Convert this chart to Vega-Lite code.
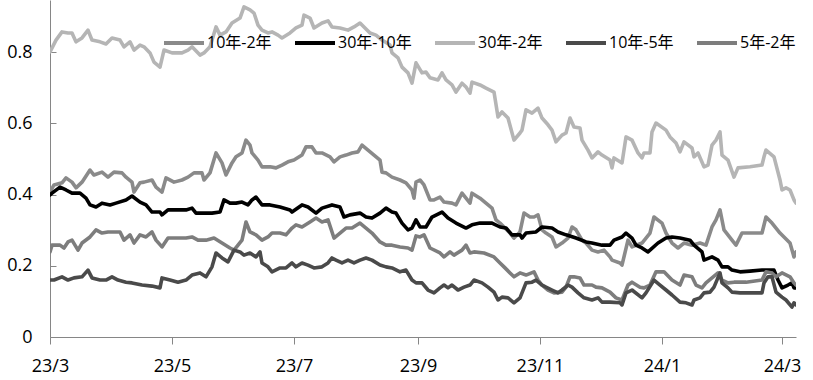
{
"$schema": "https://vega.github.io/schema/vega-lite/v6.json",
"width": 746, "height": 337,
"autosize": {"type": "none"},
"padding": {"left": 50, "top": 0, "right": 17, "bottom": 43},
"background": "white",
"config": {"view": {"stroke": null}, "font": "Open Sans, Noto Sans CJK SC"},
"data": {"values": [
{"s":"30年-2年","d":"2023-03-01","v":0.801},{"s":"30年-2年","d":"2023-03-04","v":0.834},{"s":"30年-2年","d":"2023-03-07","v":0.857},{"s":"30年-2年","d":"2023-03-10","v":0.854},{"s":"30年-2年","d":"2023-03-12","v":0.854},{"s":"30年-2年","d":"2023-03-14","v":0.829},{"s":"30年-2年","d":"2023-03-17","v":0.840},{"s":"30年-2年","d":"2023-03-20","v":0.862},{"s":"30年-2年","d":"2023-03-22","v":0.834},{"s":"30年-2年","d":"2023-03-26","v":0.829},{"s":"30年-2年","d":"2023-03-29","v":0.823},{"s":"30年-2年","d":"2023-04-01","v":0.840},{"s":"30年-2年","d":"2023-04-05","v":0.834},{"s":"30年-2年","d":"2023-04-07","v":0.815},{"s":"30年-2年","d":"2023-04-10","v":0.829},{"s":"30年-2年","d":"2023-04-12","v":0.806},{"s":"30年-2年","d":"2023-04-15","v":0.820},{"s":"30年-2年","d":"2023-04-17","v":0.815},{"s":"30年-2年","d":"2023-04-20","v":0.798},{"s":"30年-2年","d":"2023-04-22","v":0.772},{"s":"30年-2年","d":"2023-04-25","v":0.758},{"s":"30年-2年","d":"2023-04-27","v":0.806},{"s":"30年-2年","d":"2023-05-01","v":0.798},{"s":"30年-2年","d":"2023-05-06","v":0.798},{"s":"30年-2年","d":"2023-05-09","v":0.806},{"s":"30年-2年","d":"2023-05-11","v":0.815},{"s":"30年-2年","d":"2023-05-15","v":0.792},{"s":"30年-2年","d":"2023-05-17","v":0.798},{"s":"30年-2年","d":"2023-05-20","v":0.815},{"s":"30年-2年","d":"2023-05-23","v":0.871},{"s":"30年-2年","d":"2023-05-25","v":0.848},{"s":"30年-2年","d":"2023-05-28","v":0.857},{"s":"30年-2年","d":"2023-05-31","v":0.882},{"s":"30年-2年","d":"2023-06-04","v":0.896},{"s":"30年-2年","d":"2023-06-06","v":0.927},{"s":"30年-2年","d":"2023-06-09","v":0.919},{"s":"30年-2年","d":"2023-06-11","v":0.910},{"s":"30年-2年","d":"2023-06-13","v":0.876},{"s":"30年-2年","d":"2023-06-15","v":0.862},{"s":"30年-2年","d":"2023-06-18","v":0.854},{"s":"30年-2年","d":"2023-06-20","v":0.857},{"s":"30年-2年","d":"2023-06-23","v":0.848},{"s":"30年-2年","d":"2023-06-25","v":0.840},{"s":"30年-2年","d":"2023-06-29","v":0.854},{"s":"30年-2年","d":"2023-07-02","v":0.868},{"s":"30年-2年","d":"2023-07-05","v":0.876},{"s":"30年-2年","d":"2023-07-06","v":0.904},{"s":"30年-2年","d":"2023-07-09","v":0.896},{"s":"30年-2年","d":"2023-07-11","v":0.868},{"s":"30年-2年","d":"2023-07-15","v":0.882},{"s":"30年-2年","d":"2023-07-18","v":0.888},{"s":"30年-2年","d":"2023-07-20","v":0.871},{"s":"30年-2年","d":"2023-07-24","v":0.868},{"s":"30年-2年","d":"2023-07-28","v":0.862},{"s":"30年-2年","d":"2023-07-31","v":0.871},{"s":"30年-2年","d":"2023-08-03","v":0.882},{"s":"30年-2年","d":"2023-08-05","v":0.871},{"s":"30年-2年","d":"2023-08-08","v":0.854},{"s":"30年-2年","d":"2023-08-11","v":0.848},{"s":"30年-2年","d":"2023-08-14","v":0.834},{"s":"30年-2年","d":"2023-08-18","v":0.820},{"s":"30年-2年","d":"2023-08-19","v":0.798},{"s":"30年-2年","d":"2023-08-22","v":0.784},{"s":"30年-2年","d":"2023-08-24","v":0.758},{"s":"30年-2年","d":"2023-08-27","v":0.742},{"s":"30年-2年","d":"2023-08-29","v":0.713},{"s":"30年-2年","d":"2023-08-31","v":0.770},{"s":"30年-2年","d":"2023-09-03","v":0.742},{"s":"30年-2年","d":"2023-09-05","v":0.744},{"s":"30年-2年","d":"2023-09-07","v":0.728},{"s":"30年-2年","d":"2023-09-11","v":0.722},{"s":"30年-2年","d":"2023-09-13","v":0.742},{"s":"30年-2年","d":"2023-09-15","v":0.722},{"s":"30年-2年","d":"2023-09-18","v":0.708},{"s":"30年-2年","d":"2023-09-20","v":0.688},{"s":"30年-2年","d":"2023-09-23","v":0.713},{"s":"30年-2年","d":"2023-09-25","v":0.702},{"s":"30年-2年","d":"2023-09-27","v":0.685},{"s":"30年-2年","d":"2023-09-28","v":0.716},{"s":"30年-2年","d":"2023-10-02","v":0.708},{"s":"30年-2年","d":"2023-10-05","v":0.699},{"s":"30年-2年","d":"2023-10-09","v":0.688},{"s":"30年-2年","d":"2023-10-11","v":0.618},{"s":"30年-2年","d":"2023-10-13","v":0.632},{"s":"30年-2年","d":"2023-10-16","v":0.615},{"s":"30年-2年","d":"2023-10-19","v":0.553},{"s":"30年-2年","d":"2023-10-22","v":0.573},{"s":"30年-2年","d":"2023-10-23","v":0.581},{"s":"30年-2年","d":"2023-10-25","v":0.638},{"s":"30年-2年","d":"2023-10-28","v":0.629},{"s":"30年-2年","d":"2023-10-31","v":0.643},{"s":"30年-2年","d":"2023-11-02","v":0.615},{"s":"30年-2年","d":"2023-11-05","v":0.596},{"s":"30年-2年","d":"2023-11-07","v":0.581},{"s":"30年-2年","d":"2023-11-09","v":0.548},{"s":"30年-2年","d":"2023-11-12","v":0.567},{"s":"30年-2年","d":"2023-11-14","v":0.573},{"s":"30年-2年","d":"2023-11-16","v":0.615},{"s":"30年-2年","d":"2023-11-18","v":0.590},{"s":"30年-2年","d":"2023-11-21","v":0.587},{"s":"30年-2年","d":"2023-11-22","v":0.553},{"s":"30年-2年","d":"2023-11-25","v":0.525},{"s":"30年-2年","d":"2023-11-27","v":0.503},{"s":"30年-2年","d":"2023-11-30","v":0.520},{"s":"30年-2年","d":"2023-12-02","v":0.511},{"s":"30年-2年","d":"2023-12-06","v":0.497},{"s":"30年-2年","d":"2023-12-07","v":0.475},{"s":"30年-2年","d":"2023-12-08","v":0.503},{"s":"30年-2年","d":"2023-12-12","v":0.489},{"s":"30年-2年","d":"2023-12-14","v":0.562},{"s":"30年-2年","d":"2023-12-17","v":0.553},{"s":"30年-2年","d":"2023-12-20","v":0.517},{"s":"30年-2年","d":"2023-12-22","v":0.503},{"s":"30年-2年","d":"2023-12-23","v":0.517},{"s":"30年-2年","d":"2023-12-26","v":0.517},{"s":"30年-2年","d":"2023-12-27","v":0.576},{"s":"30年-2年","d":"2023-12-29","v":0.601},{"s":"30年-2年","d":"2024-01-03","v":0.581},{"s":"30年-2年","d":"2024-01-05","v":0.562},{"s":"30年-2年","d":"2024-01-08","v":0.545},{"s":"30年-2年","d":"2024-01-10","v":0.520},{"s":"30年-2年","d":"2024-01-12","v":0.548},{"s":"30年-2年","d":"2024-01-16","v":0.531},{"s":"30年-2年","d":"2024-01-17","v":0.506},{"s":"30年-2年","d":"2024-01-19","v":0.517},{"s":"30年-2年","d":"2024-01-22","v":0.478},{"s":"30年-2年","d":"2024-01-24","v":0.483},{"s":"30年-2年","d":"2024-01-26","v":0.539},{"s":"30年-2年","d":"2024-01-28","v":0.553},{"s":"30年-2年","d":"2024-01-30","v":0.576},{"s":"30年-2年","d":"2024-01-31","v":0.511},{"s":"30年-2年","d":"2024-02-03","v":0.497},{"s":"30年-2年","d":"2024-02-06","v":0.449},{"s":"30年-2年","d":"2024-02-08","v":0.475},{"s":"30年-2年","d":"2024-02-14","v":0.478},{"s":"30年-2年","d":"2024-02-20","v":0.483},{"s":"30年-2年","d":"2024-02-21","v":0.506},{"s":"30年-2年","d":"2024-02-22","v":0.525},{"s":"30年-2年","d":"2024-02-26","v":0.506},{"s":"30年-2年","d":"2024-02-29","v":0.441},{"s":"30年-2年","d":"2024-03-01","v":0.413},{"s":"30年-2年","d":"2024-03-03","v":0.419},{"s":"30年-2年","d":"2024-03-05","v":0.413},{"s":"30年-2年","d":"2024-03-07","v":0.385},{"s":"30年-2年","d":"2024-03-08","v":0.376},
{"s":"10年-2年","d":"2023-03-01","v":0.407},{"s":"10年-2年","d":"2023-03-03","v":0.427},{"s":"10年-2年","d":"2023-03-07","v":0.433},{"s":"10年-2年","d":"2023-03-09","v":0.447},{"s":"10年-2年","d":"2023-03-12","v":0.435},{"s":"10年-2年","d":"2023-03-14","v":0.419},{"s":"10年-2年","d":"2023-03-17","v":0.435},{"s":"10年-2年","d":"2023-03-21","v":0.469},{"s":"10年-2年","d":"2023-03-23","v":0.455},{"s":"10年-2年","d":"2023-03-27","v":0.463},{"s":"10年-2年","d":"2023-03-30","v":0.449},{"s":"10年-2年","d":"2023-04-02","v":0.463},{"s":"10年-2年","d":"2023-04-06","v":0.461},{"s":"10年-2年","d":"2023-04-08","v":0.449},{"s":"10年-2年","d":"2023-04-11","v":0.435},{"s":"10年-2年","d":"2023-04-12","v":0.407},{"s":"10年-2年","d":"2023-04-15","v":0.433},{"s":"10年-2年","d":"2023-04-17","v":0.435},{"s":"10年-2年","d":"2023-04-21","v":0.441},{"s":"10年-2年","d":"2023-04-23","v":0.421},{"s":"10年-2年","d":"2023-04-26","v":0.407},{"s":"10年-2年","d":"2023-04-28","v":0.447},{"s":"10年-2年","d":"2023-05-02","v":0.435},{"s":"10年-2年","d":"2023-05-06","v":0.441},{"s":"10年-2年","d":"2023-05-09","v":0.449},{"s":"10年-2年","d":"2023-05-12","v":0.461},{"s":"10年-2年","d":"2023-05-16","v":0.461},{"s":"10年-2年","d":"2023-05-17","v":0.441},{"s":"10年-2年","d":"2023-05-20","v":0.461},{"s":"10年-2年","d":"2023-05-23","v":0.517},{"s":"10年-2年","d":"2023-05-26","v":0.489},{"s":"10年-2年","d":"2023-05-28","v":0.455},{"s":"10年-2年","d":"2023-05-31","v":0.489},{"s":"10年-2年","d":"2023-06-02","v":0.506},{"s":"10年-2年","d":"2023-06-05","v":0.517},{"s":"10年-2年","d":"2023-06-07","v":0.553},{"s":"10年-2年","d":"2023-06-09","v":0.539},{"s":"10年-2年","d":"2023-06-10","v":0.517},{"s":"10年-2年","d":"2023-06-13","v":0.497},{"s":"10年-2年","d":"2023-06-15","v":0.478},{"s":"10年-2年","d":"2023-06-19","v":0.478},{"s":"10年-2年","d":"2023-06-22","v":0.475},{"s":"10年-2年","d":"2023-06-25","v":0.483},{"s":"10年-2年","d":"2023-06-28","v":0.492},{"s":"10年-2年","d":"2023-07-01","v":0.497},{"s":"10年-2年","d":"2023-07-05","v":0.511},{"s":"10年-2年","d":"2023-07-07","v":0.534},{"s":"10年-2年","d":"2023-07-10","v":0.534},{"s":"10年-2年","d":"2023-07-12","v":0.517},{"s":"10年-2年","d":"2023-07-15","v":0.517},{"s":"10年-2年","d":"2023-07-19","v":0.506},{"s":"10年-2年","d":"2023-07-21","v":0.492},{"s":"10年-2年","d":"2023-07-24","v":0.506},{"s":"10年-2年","d":"2023-07-27","v":0.511},{"s":"10年-2年","d":"2023-07-30","v":0.517},{"s":"10年-2年","d":"2023-08-02","v":0.520},{"s":"10年-2年","d":"2023-08-04","v":0.539},{"s":"10年-2年","d":"2023-08-07","v":0.525},{"s":"10年-2年","d":"2023-08-10","v":0.511},{"s":"10年-2年","d":"2023-08-13","v":0.497},{"s":"10年-2年","d":"2023-08-14","v":0.463},{"s":"10年-2年","d":"2023-08-16","v":0.461},{"s":"10年-2年","d":"2023-08-19","v":0.449},{"s":"10年-2年","d":"2023-08-23","v":0.441},{"s":"10年-2年","d":"2023-08-26","v":0.433},{"s":"10年-2年","d":"2023-08-29","v":0.413},{"s":"10年-2年","d":"2023-08-30","v":0.390},{"s":"10年-2年","d":"2023-08-31","v":0.435},{"s":"10年-2年","d":"2023-09-02","v":0.441},{"s":"10年-2年","d":"2023-09-04","v":0.427},{"s":"10年-2年","d":"2023-09-07","v":0.385},{"s":"10年-2年","d":"2023-09-09","v":0.385},{"s":"10年-2年","d":"2023-09-12","v":0.393},{"s":"10年-2年","d":"2023-09-14","v":0.379},{"s":"10年-2年","d":"2023-09-18","v":0.376},{"s":"10年-2年","d":"2023-09-20","v":0.371},{"s":"10年-2年","d":"2023-09-23","v":0.404},{"s":"10年-2年","d":"2023-09-25","v":0.390},{"s":"10年-2年","d":"2023-09-27","v":0.376},{"s":"10年-2年","d":"2023-09-28","v":0.404},{"s":"10年-2年","d":"2023-10-02","v":0.390},{"s":"10年-2年","d":"2023-10-05","v":0.376},{"s":"10年-2年","d":"2023-10-08","v":0.362},{"s":"10年-2年","d":"2023-10-10","v":0.329},{"s":"10年-2年","d":"2023-10-12","v":0.320},{"s":"10年-2年","d":"2023-10-14","v":0.309},{"s":"10年-2年","d":"2023-10-17","v":0.292},{"s":"10年-2年","d":"2023-10-19","v":0.278},{"s":"10年-2年","d":"2023-10-22","v":0.295},{"s":"10年-2年","d":"2023-10-24","v":0.348},{"s":"10年-2年","d":"2023-10-27","v":0.337},{"s":"10年-2年","d":"2023-10-29","v":0.337},{"s":"10年-2年","d":"2023-10-31","v":0.343},{"s":"10年-2年","d":"2023-11-02","v":0.301},{"s":"10年-2年","d":"2023-11-04","v":0.292},{"s":"10年-2年","d":"2023-11-07","v":0.281},{"s":"10年-2年","d":"2023-11-09","v":0.253},{"s":"10年-2年","d":"2023-11-12","v":0.264},{"s":"10年-2年","d":"2023-11-15","v":0.278},{"s":"10年-2年","d":"2023-11-17","v":0.309},{"s":"10年-2年","d":"2023-11-19","v":0.301},{"s":"10年-2年","d":"2023-11-22","v":0.272},{"s":"10年-2年","d":"2023-11-24","v":0.264},{"s":"10年-2年","d":"2023-11-27","v":0.244},{"s":"10年-2年","d":"2023-11-30","v":0.239},{"s":"10年-2年","d":"2023-12-03","v":0.244},{"s":"10年-2年","d":"2023-12-06","v":0.225},{"s":"10年-2年","d":"2023-12-07","v":0.216},{"s":"10年-2年","d":"2023-12-11","v":0.208},{"s":"10年-2年","d":"2023-12-12","v":0.202},{"s":"10年-2年","d":"2023-12-15","v":0.272},{"s":"10年-2年","d":"2023-12-17","v":0.253},{"s":"10年-2年","d":"2023-12-22","v":0.264},{"s":"10年-2年","d":"2023-12-26","v":0.292},{"s":"10年-2年","d":"2023-12-28","v":0.337},{"s":"10年-2年","d":"2024-01-01","v":0.320},{"s":"10年-2年","d":"2024-01-03","v":0.292},{"s":"10年-2年","d":"2024-01-06","v":0.264},{"s":"10年-2年","d":"2024-01-09","v":0.250},{"s":"10年-2年","d":"2024-01-12","v":0.264},{"s":"10年-2年","d":"2024-01-16","v":0.258},{"s":"10年-2年","d":"2024-01-20","v":0.264},{"s":"10年-2年","d":"2024-01-23","v":0.258},{"s":"10年-2年","d":"2024-01-26","v":0.309},{"s":"10年-2年","d":"2024-01-28","v":0.329},{"s":"10年-2年","d":"2024-01-30","v":0.357},{"s":"10年-2年","d":"2024-02-01","v":0.301},{"s":"10年-2年","d":"2024-02-05","v":0.272},{"s":"10年-2年","d":"2024-02-07","v":0.258},{"s":"10年-2年","d":"2024-02-10","v":0.292},{"s":"10年-2年","d":"2024-02-15","v":0.292},{"s":"10年-2年","d":"2024-02-20","v":0.292},{"s":"10年-2年","d":"2024-02-22","v":0.337},{"s":"10年-2年","d":"2024-02-25","v":0.320},{"s":"10年-2年","d":"2024-02-29","v":0.292},{"s":"10年-2年","d":"2024-03-02","v":0.281},{"s":"10年-2年","d":"2024-03-05","v":0.264},{"s":"10年-2年","d":"2024-03-07","v":0.225},{"s":"10年-2年","d":"2024-03-08","v":0.239},
{"s":"30年-10年","d":"2023-03-01","v":0.399},{"s":"30年-10年","d":"2023-03-02","v":0.404},{"s":"30年-10年","d":"2023-03-06","v":0.421},{"s":"30年-10年","d":"2023-03-09","v":0.413},{"s":"30年-10年","d":"2023-03-12","v":0.404},{"s":"30年-10年","d":"2023-03-16","v":0.404},{"s":"30年-10年","d":"2023-03-19","v":0.390},{"s":"30年-10年","d":"2023-03-21","v":0.371},{"s":"30年-10年","d":"2023-03-24","v":0.365},{"s":"30年-10年","d":"2023-03-27","v":0.376},{"s":"30年-10年","d":"2023-03-31","v":0.371},{"s":"30年-10年","d":"2023-04-03","v":0.376},{"s":"30年-10年","d":"2023-04-08","v":0.385},{"s":"30年-10年","d":"2023-04-11","v":0.396},{"s":"30年-10年","d":"2023-04-15","v":0.379},{"s":"30年-10年","d":"2023-04-18","v":0.371},{"s":"30年-10年","d":"2023-04-21","v":0.351},{"s":"30年-10年","d":"2023-04-25","v":0.351},{"s":"30年-10年","d":"2023-04-26","v":0.343},{"s":"30年-10年","d":"2023-04-29","v":0.357},{"s":"30年-10年","d":"2023-05-03","v":0.357},{"s":"30年-10年","d":"2023-05-08","v":0.357},{"s":"30年-10年","d":"2023-05-11","v":0.362},{"s":"30年-10年","d":"2023-05-13","v":0.348},{"s":"30年-10年","d":"2023-05-16","v":0.348},{"s":"30年-10年","d":"2023-05-21","v":0.348},{"s":"30年-10年","d":"2023-05-25","v":0.351},{"s":"30年-10年","d":"2023-05-27","v":0.385},{"s":"30年-10年","d":"2023-05-30","v":0.376},{"s":"30年-10年","d":"2023-06-02","v":0.376},{"s":"30年-10年","d":"2023-06-05","v":0.379},{"s":"30年-10年","d":"2023-06-08","v":0.371},{"s":"30年-10年","d":"2023-06-10","v":0.385},{"s":"30年-10年","d":"2023-06-12","v":0.393},{"s":"30年-10年","d":"2023-06-15","v":0.371},{"s":"30年-10年","d":"2023-06-19","v":0.371},{"s":"30年-10年","d":"2023-06-24","v":0.365},{"s":"30年-10年","d":"2023-06-29","v":0.357},{"s":"30年-10年","d":"2023-06-30","v":0.351},{"s":"30年-10年","d":"2023-07-05","v":0.371},{"s":"30年-10年","d":"2023-07-08","v":0.365},{"s":"30年-10年","d":"2023-07-12","v":0.348},{"s":"30年-10年","d":"2023-07-15","v":0.362},{"s":"30年-10年","d":"2023-07-20","v":0.371},{"s":"30年-10年","d":"2023-07-24","v":0.365},{"s":"30年-10年","d":"2023-07-26","v":0.337},{"s":"30年-10年","d":"2023-07-29","v":0.343},{"s":"30年-10年","d":"2023-08-03","v":0.348},{"s":"30年-10年","d":"2023-08-06","v":0.337},{"s":"30年-10年","d":"2023-08-09","v":0.334},{"s":"30年-10年","d":"2023-08-13","v":0.348},{"s":"30年-10年","d":"2023-08-16","v":0.362},{"s":"30年-10年","d":"2023-08-19","v":0.351},{"s":"30年-10年","d":"2023-08-21","v":0.348},{"s":"30年-10年","d":"2023-08-24","v":0.320},{"s":"30年-10年","d":"2023-08-27","v":0.301},{"s":"30年-10年","d":"2023-08-29","v":0.306},{"s":"30年-10年","d":"2023-08-31","v":0.329},{"s":"30年-10年","d":"2023-09-02","v":0.309},{"s":"30年-10年","d":"2023-09-05","v":0.309},{"s":"30年-10年","d":"2023-09-08","v":0.337},{"s":"30年-10年","d":"2023-09-13","v":0.351},{"s":"30年-10年","d":"2023-09-16","v":0.334},{"s":"30年-10年","d":"2023-09-20","v":0.320},{"s":"30年-10年","d":"2023-09-25","v":0.306},{"s":"30年-10年","d":"2023-09-28","v":0.315},{"s":"30年-10年","d":"2023-10-02","v":0.320},{"s":"30年-10年","d":"2023-10-08","v":0.320},{"s":"30年-10年","d":"2023-10-12","v":0.309},{"s":"30年-10年","d":"2023-10-15","v":0.306},{"s":"30年-10年","d":"2023-10-18","v":0.287},{"s":"30年-10年","d":"2023-10-22","v":0.287},{"s":"30年-10年","d":"2023-10-23","v":0.278},{"s":"30年-10年","d":"2023-10-25","v":0.292},{"s":"30年-10年","d":"2023-10-30","v":0.295},{"s":"30年-10年","d":"2023-11-02","v":0.309},{"s":"30年-10年","d":"2023-11-07","v":0.306},{"s":"30年-10年","d":"2023-11-10","v":0.295},{"s":"30年-10年","d":"2023-11-14","v":0.287},{"s":"30年-10年","d":"2023-11-19","v":0.278},{"s":"30年-10年","d":"2023-11-24","v":0.267},{"s":"30年-10年","d":"2023-11-27","v":0.264},{"s":"30年-10年","d":"2023-12-02","v":0.258},{"s":"30年-10年","d":"2023-12-06","v":0.258},{"s":"30年-10年","d":"2023-12-08","v":0.272},{"s":"30年-10年","d":"2023-12-12","v":0.281},{"s":"30年-10年","d":"2023-12-14","v":0.292},{"s":"30年-10年","d":"2023-12-17","v":0.278},{"s":"30年-10年","d":"2023-12-19","v":0.258},{"s":"30年-10年","d":"2023-12-22","v":0.250},{"s":"30年-10年","d":"2023-12-25","v":0.239},{"s":"30年-10年","d":"2023-12-30","v":0.264},{"s":"30年-10年","d":"2024-01-03","v":0.278},{"s":"30年-10年","d":"2024-01-06","v":0.281},{"s":"30年-10年","d":"2024-01-10","v":0.278},{"s":"30年-10年","d":"2024-01-15","v":0.272},{"s":"30年-10年","d":"2024-01-17","v":0.258},{"s":"30年-10年","d":"2024-01-21","v":0.239},{"s":"30年-10年","d":"2024-01-22","v":0.216},{"s":"30年-10年","d":"2024-01-26","v":0.225},{"s":"30年-10年","d":"2024-01-29","v":0.216},{"s":"30年-10年","d":"2024-01-31","v":0.197},{"s":"30年-10年","d":"2024-02-03","v":0.197},{"s":"30年-10年","d":"2024-02-05","v":0.188},{"s":"30年-10年","d":"2024-02-09","v":0.183},{"s":"30年-10年","d":"2024-02-14","v":0.185},{"s":"30年-10年","d":"2024-02-20","v":0.188},{"s":"30年-10年","d":"2024-02-26","v":0.188},{"s":"30年-10年","d":"2024-02-28","v":0.160},{"s":"30年-10年","d":"2024-03-01","v":0.138},{"s":"30年-10年","d":"2024-03-04","v":0.146},{"s":"30年-10年","d":"2024-03-06","v":0.152},{"s":"30年-10年","d":"2024-03-07","v":0.138},{"s":"30年-10年","d":"2024-03-08","v":0.138},
{"s":"5年-2年","d":"2023-03-01","v":0.239},{"s":"5年-2年","d":"2023-03-02","v":0.258},{"s":"5年-2年","d":"2023-03-06","v":0.258},{"s":"5年-2年","d":"2023-03-08","v":0.250},{"s":"5年-2年","d":"2023-03-10","v":0.267},{"s":"5年-2年","d":"2023-03-12","v":0.272},{"s":"5年-2年","d":"2023-03-15","v":0.244},{"s":"5年-2年","d":"2023-03-17","v":0.264},{"s":"5年-2年","d":"2023-03-21","v":0.281},{"s":"5年-2年","d":"2023-03-24","v":0.301},{"s":"5年-2年","d":"2023-03-27","v":0.292},{"s":"5年-2年","d":"2023-03-30","v":0.295},{"s":"5年-2年","d":"2023-04-01","v":0.295},{"s":"5年-2年","d":"2023-04-05","v":0.295},{"s":"5年-2年","d":"2023-04-07","v":0.272},{"s":"5年-2年","d":"2023-04-10","v":0.287},{"s":"5年-2年","d":"2023-04-12","v":0.264},{"s":"5年-2年","d":"2023-04-15","v":0.287},{"s":"5年-2年","d":"2023-04-18","v":0.281},{"s":"5年-2年","d":"2023-04-21","v":0.295},{"s":"5年-2年","d":"2023-04-23","v":0.272},{"s":"5年-2年","d":"2023-04-26","v":0.253},{"s":"5年-2年","d":"2023-04-29","v":0.278},{"s":"5年-2年","d":"2023-05-03","v":0.278},{"s":"5年-2年","d":"2023-05-08","v":0.278},{"s":"5年-2年","d":"2023-05-11","v":0.281},{"s":"5年-2年","d":"2023-05-14","v":0.272},{"s":"5年-2年","d":"2023-05-18","v":0.272},{"s":"5年-2年","d":"2023-05-22","v":0.278},{"s":"5年-2年","d":"2023-05-26","v":0.264},{"s":"5年-2年","d":"2023-05-30","v":0.250},{"s":"5年-2年","d":"2023-06-01","v":0.244},{"s":"5年-2年","d":"2023-06-05","v":0.272},{"s":"5年-2年","d":"2023-06-07","v":0.323},{"s":"5年-2年","d":"2023-06-09","v":0.295},{"s":"5年-2年","d":"2023-06-12","v":0.287},{"s":"5年-2年","d":"2023-06-15","v":0.272},{"s":"5年-2年","d":"2023-06-18","v":0.281},{"s":"5年-2年","d":"2023-06-20","v":0.292},{"s":"5年-2年","d":"2023-06-24","v":0.292},{"s":"5年-2年","d":"2023-06-27","v":0.287},{"s":"5年-2年","d":"2023-06-30","v":0.306},{"s":"5年-2年","d":"2023-07-02","v":0.315},{"s":"5年-2年","d":"2023-07-05","v":0.309},{"s":"5年-2年","d":"2023-07-09","v":0.323},{"s":"5年-2年","d":"2023-07-12","v":0.334},{"s":"5年-2年","d":"2023-07-15","v":0.323},{"s":"5年-2年","d":"2023-07-18","v":0.329},{"s":"5年-2年","d":"2023-07-21","v":0.278},{"s":"5年-2年","d":"2023-07-24","v":0.292},{"s":"5年-2年","d":"2023-07-27","v":0.306},{"s":"5年-2年","d":"2023-07-30","v":0.306},{"s":"5年-2年","d":"2023-08-03","v":0.320},{"s":"5年-2年","d":"2023-08-06","v":0.306},{"s":"5年-2年","d":"2023-08-09","v":0.292},{"s":"5年-2年","d":"2023-08-13","v":0.267},{"s":"5年-2年","d":"2023-08-16","v":0.258},{"s":"5年-2年","d":"2023-08-19","v":0.258},{"s":"5年-2年","d":"2023-08-23","v":0.253},{"s":"5年-2年","d":"2023-08-27","v":0.250},{"s":"5年-2年","d":"2023-08-29","v":0.244},{"s":"5年-2年","d":"2023-08-31","v":0.284},{"s":"5年-2年","d":"2023-09-02","v":0.281},{"s":"5年-2年","d":"2023-09-04","v":0.287},{"s":"5年-2年","d":"2023-09-07","v":0.250},{"s":"5年-2年","d":"2023-09-12","v":0.236},{"s":"5年-2年","d":"2023-09-14","v":0.225},{"s":"5年-2年","d":"2023-09-17","v":0.239},{"s":"5年-2年","d":"2023-09-19","v":0.230},{"s":"5年-2年","d":"2023-09-23","v":0.244},{"s":"5年-2年","d":"2023-09-25","v":0.258},{"s":"5年-2年","d":"2023-09-27","v":0.236},{"s":"5年-2年","d":"2023-09-29","v":0.239},{"s":"5年-2年","d":"2023-10-04","v":0.236},{"s":"5年-2年","d":"2023-10-09","v":0.225},{"s":"5年-2年","d":"2023-10-12","v":0.208},{"s":"5年-2年","d":"2023-10-14","v":0.197},{"s":"5年-2年","d":"2023-10-17","v":0.180},{"s":"5年-2年","d":"2023-10-19","v":0.169},{"s":"5年-2年","d":"2023-10-22","v":0.180},{"s":"5年-2年","d":"2023-10-25","v":0.174},{"s":"5年-2年","d":"2023-10-29","v":0.183},{"s":"5年-2年","d":"2023-10-31","v":0.160},{"s":"5年-2年","d":"2023-11-02","v":0.146},{"s":"5年-2年","d":"2023-11-05","v":0.132},{"s":"5年-2年","d":"2023-11-08","v":0.124},{"s":"5年-2年","d":"2023-11-12","v":0.126},{"s":"5年-2年","d":"2023-11-14","v":0.140},{"s":"5年-2年","d":"2023-11-16","v":0.169},{"s":"5年-2年","d":"2023-11-18","v":0.169},{"s":"5年-2年","d":"2023-11-21","v":0.166},{"s":"5年-2年","d":"2023-11-23","v":0.146},{"s":"5年-2年","d":"2023-11-27","v":0.146},{"s":"5年-2年","d":"2023-11-29","v":0.140},{"s":"5年-2年","d":"2023-12-02","v":0.138},{"s":"5年-2年","d":"2023-12-06","v":0.126},{"s":"5年-2年","d":"2023-12-09","v":0.110},{"s":"5年-2年","d":"2023-12-12","v":0.104},{"s":"5年-2年","d":"2023-12-15","v":0.146},{"s":"5年-2年","d":"2023-12-17","v":0.154},{"s":"5年-2年","d":"2023-12-21","v":0.140},{"s":"5年-2年","d":"2023-12-23","v":0.138},{"s":"5年-2年","d":"2023-12-26","v":0.146},{"s":"5年-2年","d":"2023-12-29","v":0.183},{"s":"5年-2年","d":"2024-01-02","v":0.183},{"s":"5年-2年","d":"2024-01-06","v":0.160},{"s":"5年-2年","d":"2024-01-10","v":0.146},{"s":"5年-2年","d":"2024-01-12","v":0.174},{"s":"5年-2年","d":"2024-01-16","v":0.169},{"s":"5年-2年","d":"2024-01-18","v":0.146},{"s":"5年-2年","d":"2024-01-21","v":0.138},{"s":"5年-2年","d":"2024-01-23","v":0.152},{"s":"5年-2年","d":"2024-01-26","v":0.166},{"s":"5年-2年","d":"2024-01-29","v":0.180},{"s":"5年-2年","d":"2024-01-31","v":0.160},{"s":"5年-2年","d":"2024-02-03","v":0.152},{"s":"5年-2年","d":"2024-02-06","v":0.154},{"s":"5年-2年","d":"2024-02-12","v":0.154},{"s":"5年-2年","d":"2024-02-20","v":0.160},{"s":"5年-2年","d":"2024-02-22","v":0.183},{"s":"5年-2年","d":"2024-02-25","v":0.180},{"s":"5年-2年","d":"2024-02-27","v":0.169},{"s":"5年-2年","d":"2024-03-01","v":0.180},{"s":"5年-2年","d":"2024-03-05","v":0.169},{"s":"5年-2年","d":"2024-03-07","v":0.152},{"s":"5年-2年","d":"2024-03-08","v":0.146},
{"s":"10年-5年","d":"2023-03-01","v":0.160},{"s":"10年-5年","d":"2023-03-03","v":0.160},{"s":"10年-5年","d":"2023-03-07","v":0.169},{"s":"10年-5年","d":"2023-03-10","v":0.160},{"s":"10年-5年","d":"2023-03-13","v":0.166},{"s":"10年-5年","d":"2023-03-17","v":0.169},{"s":"10年-5年","d":"2023-03-20","v":0.188},{"s":"10年-5年","d":"2023-03-22","v":0.166},{"s":"10年-5年","d":"2023-03-26","v":0.160},{"s":"10年-5年","d":"2023-03-29","v":0.160},{"s":"10年-5年","d":"2023-04-01","v":0.169},{"s":"10年-5年","d":"2023-04-04","v":0.160},{"s":"10年-5年","d":"2023-04-08","v":0.154},{"s":"10年-5年","d":"2023-04-11","v":0.152},{"s":"10年-5年","d":"2023-04-16","v":0.146},{"s":"10年-5年","d":"2023-04-21","v":0.143},{"s":"10年-5年","d":"2023-04-25","v":0.138},{"s":"10年-5年","d":"2023-04-26","v":0.166},{"s":"10年-5年","d":"2023-04-30","v":0.160},{"s":"10年-5年","d":"2023-05-04","v":0.154},{"s":"10年-5年","d":"2023-05-08","v":0.160},{"s":"10年-5年","d":"2023-05-11","v":0.174},{"s":"10年-5年","d":"2023-05-15","v":0.180},{"s":"10年-5年","d":"2023-05-18","v":0.169},{"s":"10年-5年","d":"2023-05-21","v":0.197},{"s":"10年-5年","d":"2023-05-23","v":0.236},{"s":"10年-5年","d":"2023-05-26","v":0.222},{"s":"10年-5年","d":"2023-05-29","v":0.211},{"s":"10年-5年","d":"2023-06-01","v":0.244},{"s":"10年-5年","d":"2023-06-04","v":0.239},{"s":"10年-5年","d":"2023-06-06","v":0.230},{"s":"10年-5年","d":"2023-06-09","v":0.236},{"s":"10年-5年","d":"2023-06-12","v":0.225},{"s":"10年-5年","d":"2023-06-14","v":0.239},{"s":"10年-5年","d":"2023-06-15","v":0.208},{"s":"10年-5年","d":"2023-06-18","v":0.197},{"s":"10年-5年","d":"2023-06-20","v":0.183},{"s":"10年-5年","d":"2023-06-24","v":0.194},{"s":"10年-5年","d":"2023-06-27","v":0.194},{"s":"10年-5年","d":"2023-06-30","v":0.208},{"s":"10年-5年","d":"2023-07-02","v":0.197},{"s":"10年-5年","d":"2023-07-05","v":0.208},{"s":"10年-5年","d":"2023-07-08","v":0.202},{"s":"10年-5年","d":"2023-07-11","v":0.194},{"s":"10年-5年","d":"2023-07-15","v":0.197},{"s":"10年-5年","d":"2023-07-18","v":0.208},{"s":"10年-5年","d":"2023-07-20","v":0.222},{"s":"10年-5年","d":"2023-07-22","v":0.216},{"s":"10年-5年","d":"2023-07-25","v":0.208},{"s":"10年-5年","d":"2023-07-28","v":0.216},{"s":"10年-5年","d":"2023-07-31","v":0.208},{"s":"10年-5年","d":"2023-08-03","v":0.216},{"s":"10年-5年","d":"2023-08-06","v":0.222},{"s":"10年-5年","d":"2023-08-09","v":0.216},{"s":"10年-5年","d":"2023-08-13","v":0.202},{"s":"10年-5年","d":"2023-08-16","v":0.197},{"s":"10年-5年","d":"2023-08-19","v":0.194},{"s":"10年-5年","d":"2023-08-23","v":0.183},{"s":"10年-5年","d":"2023-08-26","v":0.188},{"s":"10年-5年","d":"2023-08-29","v":0.160},{"s":"10年-5年","d":"2023-08-31","v":0.152},{"s":"10年-5年","d":"2023-09-03","v":0.152},{"s":"10年-5年","d":"2023-09-06","v":0.132},{"s":"10年-5年","d":"2023-09-09","v":0.124},{"s":"10年-5年","d":"2023-09-12","v":0.138},{"s":"10年-5年","d":"2023-09-14","v":0.146},{"s":"10年-5年","d":"2023-09-16","v":0.138},{"s":"10年-5年","d":"2023-09-18","v":0.146},{"s":"10年-5年","d":"2023-09-21","v":0.132},{"s":"10年-5年","d":"2023-09-24","v":0.140},{"s":"10年-5年","d":"2023-09-27","v":0.146},{"s":"10年-5年","d":"2023-09-29","v":0.160},{"s":"10年-5年","d":"2023-10-03","v":0.152},{"s":"10年-5年","d":"2023-10-06","v":0.140},{"s":"10年-5年","d":"2023-10-09","v":0.126},{"s":"10年-5年","d":"2023-10-11","v":0.104},{"s":"10年-5年","d":"2023-10-13","v":0.112},{"s":"10年-5年","d":"2023-10-16","v":0.110},{"s":"10年-5年","d":"2023-10-19","v":0.096},{"s":"10年-5年","d":"2023-10-22","v":0.110},{"s":"10年-5年","d":"2023-10-23","v":0.124},{"s":"10年-5年","d":"2023-10-25","v":0.152},{"s":"10年-5年","d":"2023-10-28","v":0.154},{"s":"10年-5年","d":"2023-10-30","v":0.160},{"s":"10年-5年","d":"2023-11-02","v":0.146},{"s":"10年-5年","d":"2023-11-04","v":0.140},{"s":"10年-5年","d":"2023-11-07","v":0.132},{"s":"10年-5年","d":"2023-11-10","v":0.124},{"s":"10年-5年","d":"2023-11-12","v":0.132},{"s":"10年-5年","d":"2023-11-15","v":0.146},{"s":"10年-5年","d":"2023-11-17","v":0.140},{"s":"10年-5年","d":"2023-11-20","v":0.124},{"s":"10年-5年","d":"2023-11-23","v":0.110},{"s":"10年-5年","d":"2023-11-27","v":0.104},{"s":"10年-5年","d":"2023-11-30","v":0.110},{"s":"10年-5年","d":"2023-12-02","v":0.098},{"s":"10年-5年","d":"2023-12-06","v":0.098},{"s":"10年-5年","d":"2023-12-11","v":0.096},{"s":"10年-5年","d":"2023-12-12","v":0.090},{"s":"10年-5年","d":"2023-12-14","v":0.124},{"s":"10年-5年","d":"2023-12-17","v":0.132},{"s":"10年-5年","d":"2023-12-22","v":0.110},{"s":"10年-5年","d":"2023-12-24","v":0.124},{"s":"10年-5年","d":"2023-12-28","v":0.160},{"s":"10年-5年","d":"2023-12-31","v":0.146},{"s":"10年-5年","d":"2024-01-03","v":0.132},{"s":"10年-5年","d":"2024-01-06","v":0.118},{"s":"10年-5年","d":"2024-01-10","v":0.098},{"s":"10年-5年","d":"2024-01-13","v":0.096},{"s":"10年-5年","d":"2024-01-16","v":0.090},{"s":"10年-5年","d":"2024-01-17","v":0.104},{"s":"10年-5年","d":"2024-01-20","v":0.110},{"s":"10年-5年","d":"2024-01-22","v":0.124},{"s":"10年-5年","d":"2024-01-25","v":0.126},{"s":"10年-5年","d":"2024-01-27","v":0.140},{"s":"10年-5年","d":"2024-01-30","v":0.180},{"s":"10年-5年","d":"2024-01-31","v":0.152},{"s":"10年-5年","d":"2024-02-03","v":0.138},{"s":"10年-5年","d":"2024-02-05","v":0.126},{"s":"10年-5年","d":"2024-02-09","v":0.124},{"s":"10年-5年","d":"2024-02-14","v":0.124},{"s":"10年-5年","d":"2024-02-20","v":0.124},{"s":"10年-5年","d":"2024-02-21","v":0.152},{"s":"10年-5年","d":"2024-02-23","v":0.169},{"s":"10年-5年","d":"2024-02-25","v":0.169},{"s":"10年-5年","d":"2024-02-27","v":0.126},{"s":"10年-5年","d":"2024-03-01","v":0.112},{"s":"10年-5年","d":"2024-03-03","v":0.104},{"s":"10年-5年","d":"2024-03-06","v":0.084},{"s":"10年-5年","d":"2024-03-07","v":0.096},{"s":"10年-5年","d":"2024-03-08","v":0.090}
]},
"mark": {"type": "line", "strokeWidth": 3.6, "strokeJoin": "round", "strokeCap": "round", "clip": true},
"encoding": {
"x": {"field": "d", "type": "temporal",
"scale": {"type": "utc", "domain": [{"year": 2023, "month": 3, "date": 1, "utc": true}, {"year": 2024, "month": 3, "date": 8, "utc": true}]},
"axis": {"title": null, "labelExpr": "utcFormat(datum.value, '%y/%-m')", "tickCount": {"interval": "month", "step": 2}, "grid": false, "domainColor": "#868686", "tickColor": "#868686", "tickSize": 7, "labelFontSize": 18, "labelColor": "#000000", "labelPadding": 13, "labelFlush": false, "labelOverlap": false, "domainWidth": 1, "tickWidth": 1}},
"y": {"field": "v", "type": "quantitative",
"scale": {"domain": [0, 0.9466], "nice": false},
"axis": {"title": null, "values": [0, 0.2, 0.4, 0.6, 0.8], "format": ".1~f", "grid": false, "domainColor": "#868686", "tickColor": "#868686", "tickSize": -6, "labelFontSize": 18, "labelColor": "#000000", "labelPadding": 24, "domainWidth": 1, "tickWidth": 1}},
"color": {"field": "s", "type": "nominal",
"scale": {"domain": ["10年-2年", "30年-10年", "30年-2年", "10年-5年", "5年-2年"], "range": ["#8a8a8a", "#000000", "#b5b5b5", "#4a4a4a", "#7d7d7d"]},
"legend": {"title": null, "orient": "none", "legendX": 112, "legendY": 21, "direction": "horizontal", "symbolType": "stroke", "symbolStrokeWidth": 4, "symbolSize": 1600, "labelFontSize": 16, "labelColor": "#000000", "labelOffset": 1, "columnPadding": 15, "padding": 0}}
}
}
